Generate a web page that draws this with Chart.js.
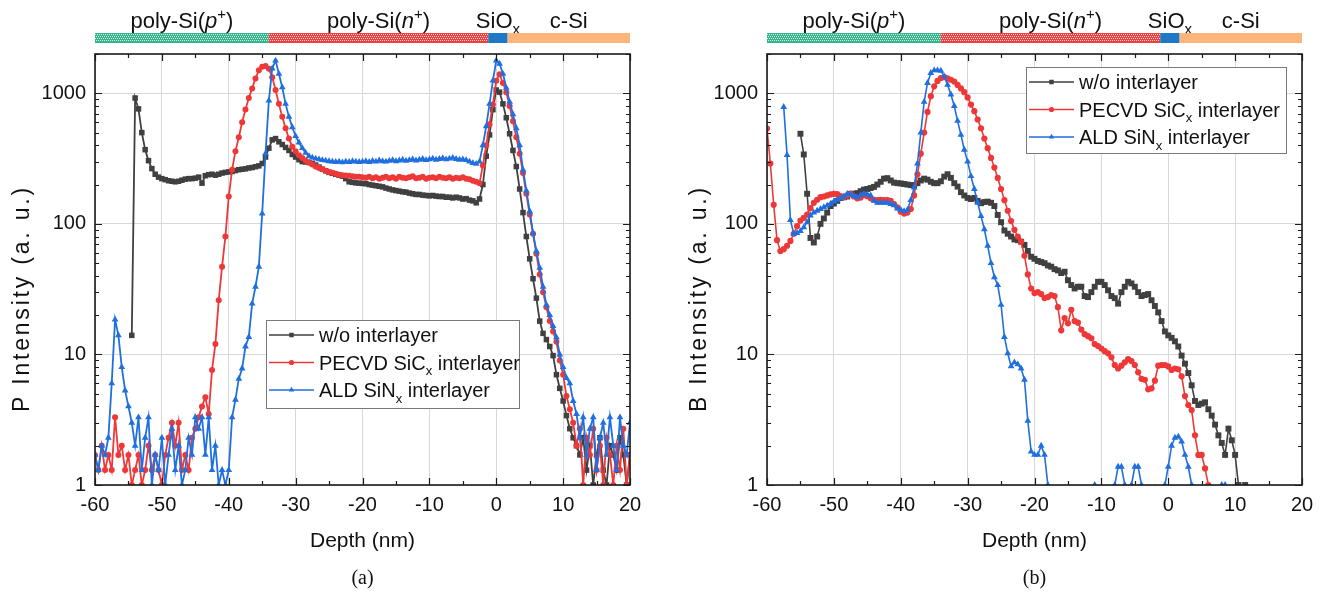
<!DOCTYPE html>
<html><head><meta charset="utf-8">
<script src="https://cdn.jsdelivr.net/npm/chart.js@4.4.0/dist/chart.umd.min.js"></script>
<style>
html,body{margin:0;padding:0;background:#fff;}
#wrap{position:relative;width:1329px;height:593px;overflow:hidden;background:#fff;}
#ca{position:absolute;left:0;top:0;width:664px;height:593px;}
#cb{position:absolute;left:664px;top:0;width:665px;height:593px;}
</style></head><body>
<div id="wrap"><canvas id="ca" width="664" height="593"></canvas><canvas id="cb" width="665" height="593"></canvas></div>
<script>
// ---------- DATA ----------
const depth = [
 -60,-59.5,-59,-58.5,-58,-57.5,-57,-56.5,-56,-55.5,
 -55,-54.5,-54,-53.5,-53,-52.5,-52,-51.5,-51,-50.5,
 -50,-49.5,-49,-48.5,-48,-47.5,-47,-46.5,-46,-45.5,
 -45,-44.5,-44,-43.5,-43,-42.5,-42,-41.5,-41,-40.5,
 -40,-39.5,-39,-38.5,-38,-37.5,-37,-36.5,-36,-35.5,
 -35,-34.5,-34,-33.5,-33,-32.5,-32,-31.5,-31,-30.5,
 -30,-29.5,-29,-28.5,-28,-27.5,-27,-26.5,-26,-25.5,
 -25,-24.5,-24,-23.5,-23,-22.5,-22,-21.5,-21,-20.5,
 -20,-19.5,-19,-18.5,-18,-17.5,-17,-16.5,-16,-15.5,
 -15,-14.5,-14,-13.5,-13,-12.5,-12,-11.5,-11,-10.5,
 -10,-9.5,-9,-8.5,-8,-7.5,-7,-6.5,-6,-5.5,
 -5,-4.5,-4,-3.5,-3,-2.5,-2,-1.5,-1,-0.5,
 0,0.5,1,1.5,2,2.5,3,3.5,4,4.5,
 5,5.5,6,6.5,7,7.5,8,8.5,9,9.5,
 10,10.5,11,11.5,12,12.5,13,13.5,14,14.5,
 15,15.5,16,16.5,17,17.5,18,18.5,19,19.5,
 20];

// (a) P intensity
const pBlack = [
 null,null,null,null,null,null,null,null,null,null,
 null,14,920,760,500,370,305,265,240,228,
 222,218,214,212,210,212,216,220,222,222,
 224,228,205,234,238,240,236,240,245,248,
 250,252,256,260,262,264,268,270,274,278,
 290,325,380,440,450,425,405,385,365,340,
 325,310,300,298,295,290,282,272,262,255,
 248,244,240,236,232,222,210,208,206,205,
 204,203,200,198,196,194,192,188,185,182,
 180,178,176,175,172,170,168,168,166,165,
 164,165,163,162,162,160,160,158,160,158,
 155,156,152,150,145,155,200,330,480,750,
 1060,1020,830,650,490,365,275,185,122,80,
 54,38,27,18,14.5,13,11.5,9.8,7,5.5,
 4.4,3.4,2.7,2.3,2.0,1.7,2.3,1.3,2.0,1.0,
 1.7,2.3,1.3,1.0,2.0,1.7,1.3,2.3,1.7,1.0,
 1.7];
const pRed = [
 1.7,1.3,2.0,1.3,1.7,1.3,3.3,1.7,2.0,1.3,
 1.7,1.0,1.3,1.7,1.0,1.3,2.0,1.3,1.7,1.3,
 1.0,1.7,2.3,3.0,2.0,3.0,1.3,1.7,1.3,2.3,
 2.7,3.3,4.0,4.7,3.5,7.6,12,26,47,80,
 162,260,360,460,600,750,920,1090,1300,1500,
 1600,1620,1540,1330,1060,830,660,540,450,390,
 360,335,320,305,295,285,275,268,262,255,
 250,246,242,238,236,235,234,232,230,230,
 228,226,230,224,228,222,226,230,224,228,
 222,230,226,224,228,232,224,226,230,222,
 226,228,224,230,226,224,228,222,226,224,
 228,222,220,214,210,205,280,400,580,820,
 1250,1400,1200,1020,800,610,460,345,245,170,
 118,84,59,41,30,23,18,15,12.5,9,
 7,4.8,3.8,3.0,2.0,2.7,1.0,2.3,1.7,2.7,
 1.3,2.0,1.0,2.3,1.7,1.0,2.0,1.3,2.7,1.0,
 1.7];
const pBlue = [
 1.7,1.3,2.0,1.7,2.3,6,18.5,14,8,5.3,
 4.0,3.0,2.0,3.3,1.3,2.3,3.3,1.0,1.7,1.3,
 2.3,1.0,1.7,2.7,1.3,2.0,1.0,1.3,2.3,1.7,
 3.3,2.7,3.3,1.7,3.3,1.3,2.0,1.0,1.3,1.0,
 1.3,3.3,4.5,6.5,7.8,11.5,13.6,24.5,33,47,
 120,345,880,1550,1780,1410,1110,830,660,550,
 470,420,380,350,330,322,316,312,308,305,
 302,300,298,300,296,300,298,302,300,298,
 300,302,298,304,300,306,302,300,304,308,
 302,306,310,304,308,312,306,310,314,308,
 312,316,310,314,318,312,316,320,314,310,
 312,308,300,292,288,300,400,560,830,1250,
 1780,1680,1410,1100,860,690,540,400,260,180,
 125,85,62,46,33,24,20,16.5,13.5,10,
 8,6.6,6,4.4,3.5,2.3,3.3,1.7,2.7,3.3,
 1.3,2.3,3.0,1.7,3.3,2.0,1.3,3.3,2.0,1.7,
 3.0];

// (b) B intensity
const bBlack = [
 null,null,null,null,null,null,null,null,null,null,
 490,340,170,78,72,80,100,110,122,137,
 143,150,158,160,162,170,170,172,178,183,
 185,188,192,200,210,222,224,215,207,205,
 204,202,200,198,198,205,215,222,218,210,
 205,205,212,230,240,225,205,193,175,165,
 158,155,158,150,144,147,148,145,137,117,
 103,89,84,80,76,75,73,69,62,56,
 54,52,51,50,48,47,45,44,42,43,
 37,34,32,33,33,28,27.5,30,33,36,
 36,34,31,28,27,24.5,30,33,36,35,
 33,30,28,28.5,29,26,23.5,21,18,15,
 14,13.4,12.6,11.5,9.8,8.5,7.2,5.8,4.4,4.1,
 4.2,4.3,3.8,3.4,2.9,2.4,2.1,1.7,2.7,2.2,
 1.7,1.0,null,1.0,null,null,null,null,null,null,
 null,null,null,null,null,null,null,null,null,null,
 null];
const bRed = [
 537,290,140,75,62,64,68,74,84,96,
 106,111,118,132,145,153,160,162,165,168,
 170,169,163,160,165,170,162,157,159,166,
 163,157,153,152,153,152,152,150,142,134,
 124,120,122,130,165,240,345,500,720,950,
 1130,1245,1310,1330,1300,1270,1230,1160,1090,1020,
 930,820,730,630,540,450,380,320,270,225,
 185,152,126,105,90,80,73,57,41,32,
 29.5,30,29,27,27.5,28.5,28,23,15.3,19,
 17.3,22,18,17.5,15.5,14.3,13.8,13.3,12,11.6,
 11.1,10.6,10.2,9.5,8.3,7.8,8.2,8.7,9.2,8.9,
 8.3,7.3,6.5,6.4,5.4,5.5,6.3,8.2,8.3,8.3,
 8.1,7.6,7.8,7.7,6.8,4.8,4.1,3.75,2.4,1.7,
 1.7,1.34,1.0,null,null,null,null,null,null,null,
 null,null,null,null,null,null,null,null,null,null,
 null,null,null,null,null,null,null,null,null,null,
 null];
const bBlue = [
 null,null,null,null,null,786,336,107,84,85,
 88,94,103,116,122,126,130,134,138,142,
 148,153,157,162,170,168,164,160,166,170,
 168,165,150,145,145,145,145,142,139,131,
 128,125,128,152,190,290,500,860,1200,1430,
 1500,1500,1490,1350,1160,980,800,615,480,370,
 300,232,185,145,115,91,68,50,39,34,
 24,13.6,10.2,8.1,8.7,8.4,7.8,6.4,3.1,1.8,
 1.7,1.7,2.0,1.7,1.0,null,null,null,null,null,
 null,null,null,null,null,null,null,null,1.0,null,
 null,null,null,null,1.0,1.38,1.38,1.0,null,1.0,
 1.38,1.38,1.0,null,null,null,null,null,null,1.0,
 1.38,2.0,2.3,2.35,2.15,1.7,1.38,1.0,null,null,
 null,null,null,null,null,null,1.0,1.0,null,null,
 null,null,null,null,null,null,null,null,null,null,
 null,null,null,null,null,null,null,null,null,null,
 null];

const seriesNames = ['w/o interlayer','PECVD SiC<sub>x</sub> interlayer','ALD SiN<sub>x</sub> interlayer'];
const layerNames = ['poly-Si(<i>p</i><sup>+</sup>)','poly-Si(<i>n</i><sup>+</sup>)','SiO<sub>x</sub>','c-Si'];
const layerStart = [-60,-34,-1.2,1.7];
const layerEnd = [-34,-1.2,1.7,20];
const xTickStep = 10;
const xMinorStep = 5;
const yTicks = [1,10,100,1000];
const yTitles = ['P Intensity (a. u.)','B Intensity (a. u.)'];
const captions = ['(a)','(b)'];

// ---------- STYLE ----------
const SANS = '"Liberation Sans", Arial, sans-serif';
const SERIF = '"Liberation Serif", "Times New Roman", serif';
const COLORS = ['#404040','#ee3838','#1f6fe0'];
const STYLES = ['rect','circle','triangle'];

function rich(ctx, markup, x, y, size, family, align, color, ls){
  ls = ls || 0;
  const parts=[]; let it=false, sup=false, sub=false;
  markup.split(/(<\/?(?:i|sup|sub)>)/).forEach(t=>{
    if(!t) return;
    if(t==='<i>') it=true; else if(t==='</i>') it=false;
    else if(t==='<sup>') sup=true; else if(t==='</sup>') sup=false;
    else if(t==='<sub>') sub=true; else if(t==='</sub>') sub=false;
    else parts.push({t, it, sup, sub});
  });
  const glyphs=[]; let total=0;
  parts.forEach(p=>{
    const fs=(p.sup||p.sub)?Math.round(size*0.66):size;
    const font=(p.it?'italic ':'')+fs+'px '+family;
    const dy=p.sup?-size*0.42:(p.sub?size*0.28:0);
    ctx.font=font;
    if(ls>0){
      for(const ch of p.t){ const w=ctx.measureText(ch).width; glyphs.push({t:ch,font,dy,w,adv:w+ls}); total+=w+ls; }
    } else {
      const w=ctx.measureText(p.t).width; glyphs.push({t:p.t,font,dy,w,adv:w}); total+=w;
    }
  });
  if(ls>0) total-=ls;
  let cx = align==='center'? x-total/2 : (align==='right'? x-total : x);
  ctx.fillStyle=color; ctx.textAlign='left';
  glyphs.forEach(g=>{ctx.font=g.font; ctx.fillText(g.t,cx,y+g.dy); cx+=g.adv;});
  return total;
}

function dottedBar(ctx,x0,x1,y0,h,color){
  ctx.fillStyle=color; ctx.fillRect(x0,y0,x1-x0,h);
  ctx.fillStyle='rgba(255,255,255,0.8)';
  const xs=Math.round(x0), xe=Math.round(x1);
  for(let py=y0+1; py<y0+h-1; py+=2){
    const off=((py-y0-1)/2)%2===0?0:1;
    for(let px=xs+off; px<xe; px+=2){ ctx.fillRect(px,py,1,1); }
  }
}

function drawMarker(ctx, style, x, y, r, color){
  ctx.fillStyle=color; ctx.beginPath();
  if(style==='rect'){ ctx.rect(x-r*0.7,y-r*0.7,r*1.4,r*1.4); }
  else if(style==='circle'){ ctx.arc(x,y,r*0.8,0,Math.PI*2); }
  else { ctx.moveTo(x,y-r); ctx.lineTo(x+r*0.87,y+r*0.5); ctx.lineTo(x-r*0.87,y+r*0.5); ctx.closePath(); }
  ctx.fill();
}

function decoPlugin(cfg){
  return {
    id:'deco',
    afterDatasetsDraw(chart){
      const ctx=chart.ctx, a=chart.chartArea, xs=chart.scales.x, ys=chart.scales.y;
      ctx.save();
      ctx.strokeStyle='#1a1a1a'; ctx.lineWidth=1.6;
      ctx.strokeRect(a.left,a.top,a.right-a.left,a.bottom-a.top);
      ctx.lineWidth=1.2; ctx.beginPath();
      for(let v=xs.min; v<=xs.max+1e-9; v+=xMinorStep){
        const px=Math.round(xs.getPixelForValue(v))+0.5;
        const L=(Math.abs(v%xTickStep)<1e-9)?7:4;
        ctx.moveTo(px,a.bottom); ctx.lineTo(px,a.bottom-L);
        ctx.moveTo(px,a.top); ctx.lineTo(px,a.top+L);
      }
      yTicks.forEach(d=>{
        for(let k=1;k<=9;k++){
          const v=d*k; if(v>ys.max) break;
          const py=Math.round(ys.getPixelForValue(v))+0.5;
          const L=(k===1)?7:4;
          ctx.moveTo(a.left,py); ctx.lineTo(a.left+L,py);
          ctx.moveTo(a.right,py); ctx.lineTo(a.right-L,py);
        }
      });
      ctx.stroke();
      const L=cfg.legend;
      ctx.fillStyle='#fff'; ctx.fillRect(L.x,L.y,L.w,L.h);
      ctx.strokeStyle='#7a7a7a'; ctx.lineWidth=1; ctx.strokeRect(L.x+0.5,L.y+0.5,L.w,L.h);
      seriesNames.forEach((n,i)=>{
        const ry=L.y+15+i*27.5;
        ctx.strokeStyle=COLORS[i]; ctx.lineWidth=1.6;
        ctx.beginPath(); ctx.moveTo(L.x+3,ry); ctx.lineTo(L.x+48,ry); ctx.stroke();
        drawMarker(ctx,STYLES[i],L.x+25.5,ry,3.2,COLORS[i]);
        ctx.textBaseline='alphabetic';
        rich(ctx,n,L.x+53,ry+7,20,SANS,'left','#111');
      });
      ctx.restore();
    },
    afterDraw(chart){
      const ctx=chart.ctx, a=chart.chartArea, xs=chart.scales.x;
      ctx.save();
      ctx.textBaseline='alphabetic';
      const fills=['#35b58b','#f23e3e','#1f78c4','#fdb57c'];
      layerNames.forEach((n,i)=>{
        const x0=xs.getPixelForValue(layerStart[i]), x1=xs.getPixelForValue(layerEnd[i]);
        if(i<2) dottedBar(ctx,x0,x1,33,10,fills[i]);
        else { ctx.fillStyle=fills[i]; ctx.fillRect(x0,33,x1-x0,10); }
        rich(ctx,n,(x0+x1)/2,28,22,SANS,'center','#111');
      });
      rich(ctx,'Depth (nm)',(a.left+a.right)/2,547,21,SANS,'center','#111');
      ctx.save(); ctx.translate(a.left-cfg.titleOff,300); ctx.rotate(-Math.PI/2);
      rich(ctx,cfg.yTitle,0,0,23,SANS,'center','#111',2.8); ctx.restore();
      rich(ctx,cfg.caption,(a.left+a.right)/2,584,20,SERIF,'center','#111');
      ctx.restore();
    }
  };
}

function build(canvasId, arrs, cfg){
  const sizes=cfg.sizes;
  const datasets=arrs.map((arr,i)=>({
    label:seriesNames[i],
    data:depth.map((x,j)=>({x, y:arr[j]})),
    borderColor:COLORS[i], backgroundColor:COLORS[i],
    borderWidth:cfg.lw, pointStyle:STYLES[i], pointRadius:sizes[i],
    pointBackgroundColor:COLORS[i], pointBorderWidth:0,
    spanGaps:false, tension:0, clip:0, order:3-i
  }));
  const tickFont={family:SANS,size:20};
  return new Chart(document.getElementById(canvasId),{
    type:'line',
    data:{datasets},
    options:{
      responsive:false, animation:false, events:[],
      layout:{padding:{top:54,right:cfg.padRight,left:0,bottom:0}},
      plugins:{legend:{display:false},tooltip:{enabled:false}},
      scales:{
        x:{type:'linear',min:-60,max:20,
           ticks:{stepSize:xTickStep,font:tickFont,color:'#111',padding:8,maxRotation:0,autoSkip:false},
           grid:{color:'#d8d8d8',lineWidth:1,drawTicks:false},border:{display:false},
           afterFit(s){s.height=108;}},
        y:{type:'logarithmic',min:1,max:2000,
           afterBuildTicks(s){s.ticks=yTicks.map(v=>({value:v}));},
           ticks:{font:tickFont,color:'#111',padding:9,callback:v=>String(v)},
           grid:{color:'#d8d8d8',lineWidth:1,drawTicks:false},border:{display:false},
           afterFit(s){s.width=cfg.yWidth;}}
      }
    },
    plugins:[decoPlugin(cfg)]
  });
}

build('ca',[pBlack,pRed,pBlue],{padRight:34,yWidth:95,sizes:[3.9,3.0,3.9],lw:1.8,titleOff:66,
  legend:{x:266,y:320,w:253,h:88},yTitle:yTitles[0],caption:captions[0]});
build('cb',[bBlack,bRed,bBlue],{padRight:27,yWidth:103,sizes:[4.2,3.1,3.9],lw:1.6,titleOff:61,
  legend:{x:362,y:67,w:260,h:86},yTitle:yTitles[1],caption:captions[1]});
</script>
</body></html>
